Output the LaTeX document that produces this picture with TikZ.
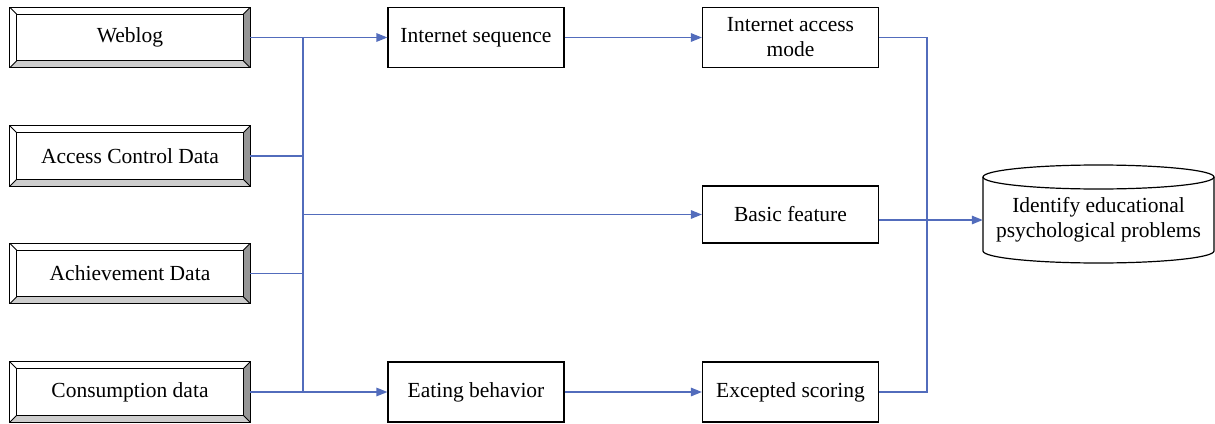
\documentclass[tikz,border=0pt]{standalone}
\usepackage{fontspec}
\setmainfont{Liberation Serif}
\usetikzlibrary{arrows.meta}
\definecolor{linkblue}{RGB}{82,108,188}
\definecolor{bevelright}{RGB}{150,150,150}
\definecolor{bevelbottom}{RGB}{205,205,205}
\tikzset{
  every node/.style={font=\fontsize{21.5}{25}\selectfont, inner sep=0pt, align=center},
  bevelbox/.style={rectangle, minimum width=240pt, minimum height=60pt},
  plainbox/.style={draw, line width=1.2pt, rectangle, minimum width=176pt, minimum height=60pt},
  link/.style={draw=linkblue, line width=1.4pt},
  arrowlink/.style={link, -{Triangle[length=11pt,width=8.5pt]}},
}
\begin{document}
\begin{tikzpicture}[x=1pt,y=-1pt]
\useasboundingbox (0,0) rectangle (1215,423);

% source boxes (bevelled)
\node[bevelbox] (weblog)  at (130,37.5)  {Weblog};
\node[bevelbox] (access)  at (130,156)   {Access Control Data};
\node[bevelbox] (achieve) at (130,273.5) {Achievement Data};
\node[bevelbox] (consume) at (130,392)   {Consumption data};

\foreach \n in {weblog,access,achieve,consume}{
  \fill[bevelright] (\n.north east) -- (\n.south east) -- ([shift={(-7pt,7pt)}]\n.south east) -- ([shift={(-7pt,-7pt)}]\n.north east) -- cycle;
  \fill[bevelbottom] (\n.south west) -- (\n.south east) -- ([shift={(-7pt,7pt)}]\n.south east) -- ([shift={(7pt,7pt)}]\n.south west) -- cycle;
  \draw[line width=1.3pt] (\n.north west) rectangle (\n.south east);
  \draw[line width=0.9pt] ([shift={(7pt,-7pt)}]\n.north west) rectangle ([shift={(-7pt,7pt)}]\n.south east);
  \draw[line width=0.8pt] (\n.north west) -- ([shift={(7pt,-7pt)}]\n.north west)
                          (\n.north east) -- ([shift={(-7pt,-7pt)}]\n.north east)
                          (\n.south west) -- ([shift={(7pt,7pt)}]\n.south west)
                          (\n.south east) -- ([shift={(-7pt,7pt)}]\n.south east);
}

% processing boxes
\node[plainbox] (iseq)  at (476,37.5)  {Internet sequence};
\node[plainbox] (eat)   at (476,392) {Eating behavior};
\node[plainbox] (imode) at (790.5,37.5)  {Internet access\\mode};
\node[plainbox, minimum height=57pt] (basic) at (790.5,214.5) {Basic feature};
\node[plainbox] (score) at (790.5,392) {Excepted scoring};

% goal (cylinder)
\node[minimum width=231pt] (goal) at (1098.5,220) {Identify educational\\psychological problems};
\path (goal.center) ++(0,-43) coordinate (ctop);
\path (goal.center) ++(0,31) coordinate (cbot);
\draw[line width=1.2pt] (ctop) ellipse [x radius=115.5pt, y radius=12pt];
\draw[line width=1.2pt] ([xshift=-115.5pt]ctop) -- ([xshift=-115.5pt]cbot)
  arc[start angle=180, end angle=360, x radius=115.5pt, y radius=12pt]
  -- ([xshift=115.5pt]ctop);

% collecting bus
\coordinate (bustop) at (303,37.5);
\coordinate (busbot) at (303,392);
\coordinate (busmid) at (303,214.5);
\draw[link] (bustop) -- (busbot);
\draw[arrowlink] (weblog.east) -- (iseq.west);
\draw[link] (access.east) -- (access.east -| bustop);
\draw[link] (achieve.east) -- (achieve.east -| bustop);
\draw[arrowlink] (consume.east) -- (eat.west);
\draw[arrowlink] (busmid) -- (basic.west);

\draw[arrowlink] (iseq.east) -- (imode.west);
\draw[arrowlink] (eat.east) -- (score.west);

% output bus
\coordinate (outtop) at (927,37.5);
\draw[link] (imode.east) -- (outtop) -- (outtop |- score.east) -- (score.east);
\draw[arrowlink] (basic.east |- goal.west) -- (goal.west);
\end{tikzpicture}
\end{document}
